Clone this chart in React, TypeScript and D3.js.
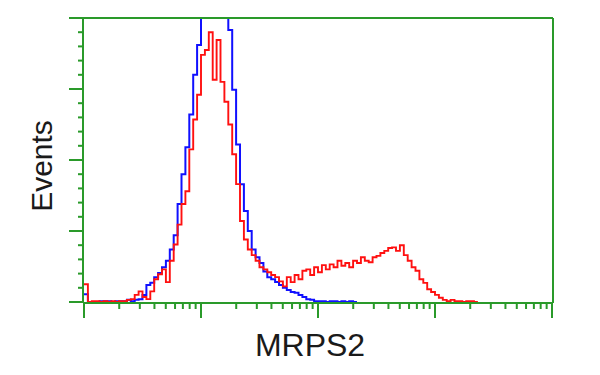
import React from "react";
import * as d3 from "d3";

// Histogram bins: bin i spans 10^(i/30) .. 10^((i+1)/30) on the MRPS2 axis
const binsPerDecade = 30;
const xDomain = [1, 10000];
const yDomain = [0, 400];

const blueCounts = [
  11, 0, 0, 0, 1, 1, 1, 0, 1, 1,
  1, 3, 1, 3, 4, 10, 24, 27, 35, 41,
  49, 58, 74, 94, 138, 180, 218, 264, 320, 362,
  411, 446, 467, 479, 474, 460, 436, 383, 299, 222,
  166, 128, 100, 74, 63, 55, 43, 35, 32, 28,
  24, 20, 17, 14, 13, 10, 7, 4, 3, 1,
  1, 1, 0, 1, 1, 0, 1, 0, 1, 0,
];

const redCounts = [
  25, 0, 1, 1, 0, 1, 0, 1, 0, 1,
  1, 3, 4, 10, 15, 7, 4, 15, 32, 39,
  46, 28, 58, 81, 109, 138, 156, 215, 257, 292,
  348, 355, 380, 313, 369, 310, 282, 250, 208, 166,
  114, 88, 74, 66, 58, 49, 46, 42, 38, 35,
  29, 22, 35, 28, 38, 32, 44, 46, 38, 49,
  42, 52, 46, 53, 49, 58, 51, 55, 49, 58,
  55, 63, 58, 56, 63, 65, 69, 72, 76, 77,
  72, 80, 66, 58, 49, 44, 32, 27, 18, 14,
  10, 6, 3, 1, 3, 1, 1, 0, 1, 1,
  0,
];

const xLabel = "MRPS2";
const yLabel = "Events";

const GREEN = "#2a9a2a";

export default function App() {
  const left = 83;
  const right = 553;
  const top = 18;
  const bottom = 303;

  const x = d3.scaleLog().domain(xDomain).range([84, 552]);
  const y = d3.scaleLinear().domain(yDomain).range([bottom - 1, top]);

  const edge = (i: number) => Math.pow(10, i / binsPerDecade);

  const stepPath = (counts: number[]) => {
    const pts: [number, number][] = counts.map((c, i) => [edge(i), c]);
    pts.push([edge(counts.length), counts[counts.length - 1]]);
    const line = d3
      .line<[number, number]>()
      .x((d) => x(d[0]))
      .y((d) => y(d[1]))
      .curve(d3.curveStepAfter);
    return line(pts) || "";
  };

  const xTicks = x.ticks();
  const yTicks = y.ticks(20);

  return (
    <svg
      width={600}
      height={375}
      style={{ position: "absolute", left: 0, top: 0, background: "#fff" }}
    >
      <defs>
        <clipPath id="plotClip">
          <rect x={left} y={top + 1} width={right - left} height={bottom - top + 2} />
        </clipPath>
      </defs>
      <rect x={0} y={0} width={600} height={375} fill="#fff" />

      <g clipPath="url(#plotClip)">
        <path d={stepPath(blueCounts)} fill="none" stroke="#1010ff" strokeWidth={2} />
        <path d={stepPath(redCounts)} fill="none" stroke="#ff1010" strokeWidth={1.9} />
      </g>

      {/* frame */}
      <g stroke={GREEN} strokeWidth={2} fill="none">
        <line x1={69} y1={top} x2={right} y2={top} />
        <line x1={right} y1={top} x2={right} y2={bottom} />
        <line x1={left} y1={top} x2={left} y2={bottom} />
        <line x1={left} y1={bottom} x2={right} y2={bottom} />
      </g>

      {/* y ticks */}
      <g stroke={GREEN} strokeWidth={2}>
        {yTicks.map((t) => {
          const major = t % 100 === 0;
          return (
            <line key={"y" + t} x1={major ? 69 : 78} x2={left} y1={y(t)} y2={y(t)} />
          );
        })}
      </g>

      {/* x ticks */}
      <g stroke={GREEN} strokeWidth={2}>
        {xTicks.map((t, i) => {
          const lg = Math.log10(t);
          const major = Math.abs(lg - Math.round(lg)) < 1e-9;
          return (
            <line
              key={"x" + i}
              x1={x(t)}
              x2={x(t)}
              y1={bottom}
              y2={major ? 318 : 309}
            />
          );
        })}
      </g>

      <text
        x={310}
        y={356}
        textAnchor="middle"
        fontFamily="'Liberation Sans', Arial, sans-serif"
        fontSize={32}
        fill="#1a1a1a"
      >
        {xLabel}
      </text>
      <text
        transform="translate(52,166) rotate(-90)"
        textAnchor="middle"
        fontFamily="'Liberation Sans', Arial, sans-serif"
        fontSize={30}
        fill="#1a1a1a"
      >
        {yLabel}
      </text>
    </svg>
  );
}
